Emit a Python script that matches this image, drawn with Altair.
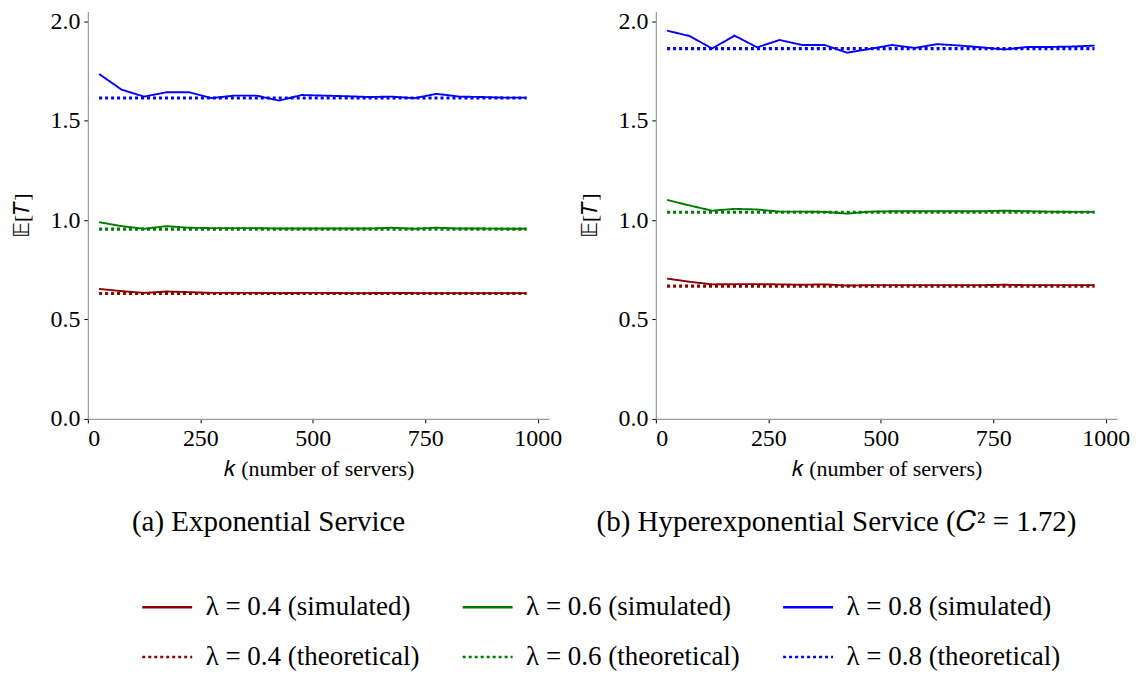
import altair as alt
import pandas as pd

K = [25, 75, 125, 175, 225, 275, 325, 375, 425, 475, 525, 575, 625, 675, 725, 775, 825, 875, 925, 975]

# Panel (a): exponential service
exp_sim_04 = [0.654, 0.643, 0.634, 0.641, 0.638, 0.634, 0.634, 0.634, 0.633, 0.634, 0.634, 0.633, 0.633, 0.634, 0.633, 0.633, 0.633, 0.633, 0.633, 0.633]
exp_sim_06 = [0.990, 0.970, 0.957, 0.970, 0.962, 0.960, 0.960, 0.960, 0.958, 0.958, 0.958, 0.958, 0.958, 0.962, 0.957, 0.962, 0.958, 0.958, 0.957, 0.957]
exp_sim_08 = [1.736, 1.657, 1.622, 1.644, 1.644, 1.615, 1.627, 1.627, 1.602, 1.630, 1.627, 1.624, 1.620, 1.622, 1.614, 1.636, 1.622, 1.620, 1.617, 1.617]
exp_theo = {"0.4": 0.631, "0.6": 0.955, "0.8": 1.615}

# Panel (b): hyperexponential service
hyp_sim_04 = [0.706, 0.690, 0.677, 0.678, 0.678, 0.677, 0.675, 0.677, 0.671, 0.673, 0.673, 0.673, 0.673, 0.673, 0.673, 0.675, 0.673, 0.673, 0.673, 0.673]
hyp_sim_06 = [1.102, 1.074, 1.048, 1.057, 1.054, 1.043, 1.043, 1.042, 1.033, 1.043, 1.045, 1.045, 1.045, 1.045, 1.045, 1.048, 1.045, 1.043, 1.042, 1.042]
hyp_sim_08 = [1.954, 1.927, 1.864, 1.929, 1.870, 1.907, 1.882, 1.882, 1.843, 1.862, 1.882, 1.867, 1.886, 1.879, 1.870, 1.859, 1.872, 1.872, 1.874, 1.879]
hyp_theo = {"0.4": 0.668, "0.6": 1.040, "0.8": 1.864}

LAMBDAS = ["0.4", "0.6", "0.8"]
COLORS = ["#8b0000", "#007a00", "#0000ff"]
SIM_LABELS = [f"λ = {l} (simulated)" for l in LAMBDAS]
THEO_LABELS = [f"λ = {l} (theoretical)" for l in LAMBDAS]
# legend is filled column by column: simulated on row 1, theoretical on row 2
DOMAIN = [lab for pair in zip(SIM_LABELS, THEO_LABELS) for lab in pair]
COLOR_RANGE = [c for c in COLORS for _ in range(2)]
DASH_RANGE = [[1, 0], [3, 3]] * 3

FONT = "Liberation Serif"


def build_frames(sims, theo):
    sim_rows, theo_rows = [], []
    for lam, vals, lab in zip(LAMBDAS, sims, SIM_LABELS):
        for k, v in zip(K, vals):
            sim_rows.append({"k": k, "v": v, "series": lab})
    for lam, lab in zip(LAMBDAS, THEO_LABELS):
        for k in K:
            theo_rows.append({"k": k, "v": theo[lam], "series": lab})
    return pd.DataFrame(sim_rows), pd.DataFrame(theo_rows)


color = alt.Color("series:N", scale=alt.Scale(domain=DOMAIN, range=COLOR_RANGE),
                  legend=alt.Legend(title=None, orient="none", columns=3, legendX=53, legendY=570,
                                    symbolType="stroke", symbolSize=2500, symbolStrokeWidth=2.6,
                                    labelFont=FONT, labelFontSize=27, labelColor="#000",
                                    labelLimit=500, labelOffset=12, columnPadding=37, rowPadding=10))
dash = alt.StrokeDash("series:N", scale=alt.Scale(domain=DOMAIN, range=DASH_RANGE), legend=None)

xscale = alt.Scale(domain=[0, 1025], nice=False)
yscale = alt.Scale(domain=[0, 2.05], nice=False)


def panel(sims, theo, caption):
    sim_df, theo_df = build_frames(sims, theo)
    x = alt.X("k:Q", scale=xscale,
              axis=alt.Axis(title="𝑘 (number of servers)", values=[0, 250, 500, 750, 1000], format="d"))
    y = alt.Y("v:Q", scale=yscale,
              axis=alt.Axis(title="𝔼[𝑇]", values=[0, 0.5, 1.0, 1.5, 2.0], format=".1f"))
    sim = alt.Chart(sim_df).mark_line(strokeWidth=1.9).encode(x=x, y=y, color=color, strokeDash=dash)
    th = alt.Chart(theo_df).mark_line(strokeWidth=3.2).encode(x=x, y=y, color=color, strokeDash=dash)
    return alt.layer(sim, th).properties(
        width=462, height=408,
        title=alt.TitleParams(caption, orient="bottom", offset=28, dx=-50, font=FONT, fontSize=29,
                              fontWeight="normal", color="#000", anchor="middle"),
    )


left = panel([exp_sim_04, exp_sim_06, exp_sim_08], exp_theo, "(a) Exponential Service")
right = panel([hyp_sim_04, hyp_sim_06, hyp_sim_08], hyp_theo, "(b) Hyperexponential Service (𝐶² = 1.72)")

chart = alt.hconcat(left, right, spacing=107, bounds="flush").properties(
    padding={"left": 3, "right": 5, "top": 0, "bottom": 5}
).configure_view(stroke=None).configure_axis(
    grid=False, domainColor="#999", domainWidth=1.2, tickColor="#000", tickSize=4, tickWidth=1,
    labelFont=FONT, labelFontSize=24, labelColor="#000", labelPadding=4,
    titleFont=FONT, titleFontSize=22, titleFontWeight="normal", titleColor="#000",
).configure_axisY(titlePadding=16).configure_axisX(titlePadding=8)

chart.save("out.html", embed_options={"renderer": "svg", "actions": False})
